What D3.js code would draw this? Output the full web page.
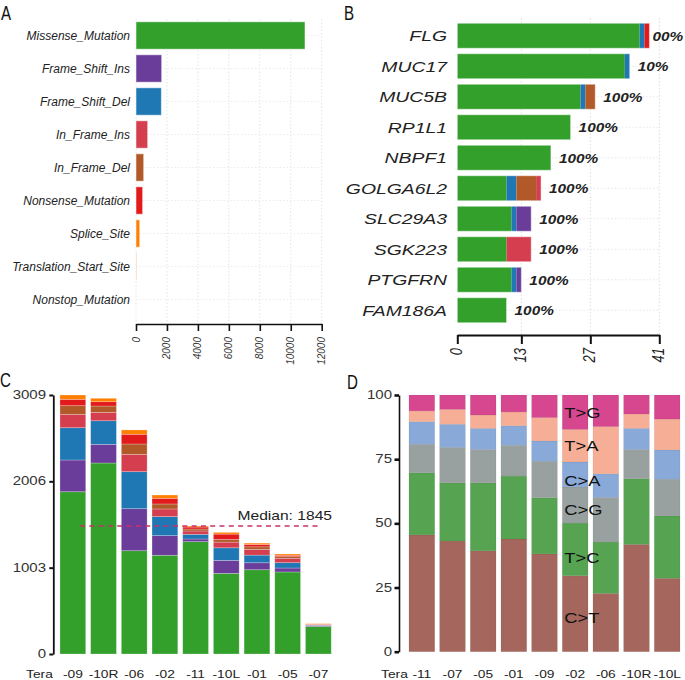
<!DOCTYPE html>
<html><head><meta charset="utf-8">
<script src="https://cdn.jsdelivr.net/npm/d3@7"></script>
<style>
html,body{margin:0;padding:0;background:#fff;}
svg{display:block;font-family:"Liberation Sans",Arial,Helvetica,sans-serif;}
</style></head>
<body>
<svg id="chart" width="685" height="680"></svg>
<script>
// ---------- DATA ----------
// Panel A: variant classification
const variantClasses = ["Missense_Mutation","Frame_Shift_Ins","Frame_Shift_Del","In_Frame_Ins","In_Frame_Del","Nonsense_Mutation","Splice_Site","Translation_Start_Site","Nonstop_Mutation"];
const variantCounts  = [10920, 1660, 1640, 755, 497, 430, 240, 40, 0];
const variantColors  = ["#33A02C","#6A3D9A","#1F78B4","#D53E4F","#B15928","#E31A1C","#FF7F00","#F4A582","#A6CEE3"];
const aTicks = [0,2000,4000,6000,8000,10000,12000];

// Panel B: top 10 genes (stack order)
const genes = ["FLG","MUC17","MUC5B","RP1L1","NBPF1","GOLGA6L2","SLC29A3","SGK223","PTGFRN","FAM186A"];
const geneStackKeys = ["Missense_Mutation","Frame_Shift_Del","Frame_Shift_Ins","In_Frame_Del","In_Frame_Ins","Nonsense_Mutation"];
const geneMissense = [37,34,25,23,19,10,11,10,11,10];
const geneFSD      = [1,1,1,0,0,2,1,0,1,0];
const geneFSI      = [0,0,0,0,0,0,3,0,1,0];
const geneIFD      = [0,0,2,0,0,4,0,0,0,0];
const geneIFI      = [0,0,0,0,0,1,0,5,0,0];
const geneNonsense = [1,0,0,0,0,0,0,0,0,0];
const geneLabels   = ["00%","10%","100%","100%","100%","100%","100%","100%","100%","100%"];
const bTicks = [0,13,27,41];

// Panel C: variants per sample
const samplesC = ["-09","-10R","-06","-02","-11","-10L","-01","-05","-07"];
const cStackKeys = ["Missense_Mutation","Frame_Shift_Ins","Frame_Shift_Del","In_Frame_Ins","In_Frame_Del","Nonsense_Mutation","Splice_Site"];
const cMissense = [1885,2219,1200,1147,1305,937,979,953,320];
const cFSI      = [369,217,488,228,31,151,81,46,10];
const cFSD      = [375,274,430,221,55,146,89,62,4];
const cIFI      = [156,98,202,89,38,66,66,51,6];
const cIFD      = [100,73,120,58,23,31,30,19,4];
const cNonsense = [74,50,113,66,23,62,28,16,3];
const cSplice   = [50,40,50,38,12,20,15,15,5];
const cTicks = [0,1003,2006,3009];
const medianLabel = 1845;

// Panel D: transitions / transversions (%)
const samplesD = ["-11","-07","-05","-01","-09","-02","-06","-10R","-10L"];
const subs = ["C>T","T>C","C>G","C>A","T>A","T>G"];
const subColors = ["#a4665d","#56a352","#98a19f","#89a9d9","#f6af96","#d6478f"];
const dCT = [45.5,43.1,39.3,43.9,38.1,29.6,22.7,41.8,28.6];
const dTC = [24.2,22.7,26.5,24.5,21.9,20.5,20.0,25.6,24.3];
const dCG = [11.1,13.8,13.0,12.0,14.2,14.1,17.4,11.4,14.3];
const dCA = [8.8,9.0,8.2,7.6,7.9,9.7,9.2,8.2,11.4];
const dTA = [4.2,5.8,5.2,5.4,9.1,12.7,18.4,5.6,12.0];
const dTG = [6.2,5.6,7.8,6.6,8.8,13.4,12.3,7.4,9.4];
const subLabelPos = [13,36.6,55.2,66.5,80.1,93.1];
const subLabelSample = "-02";
const dTicks = [0,25,50,75,100];

// ---------- HELPERS ----------
const svg = d3.select("#chart");
const colorOf = d3.scaleOrdinal().domain(variantClasses).range(variantColors);

function label(g, x, y, s, o = {}) {
  const t = g.append("text")
    .attr("transform", `translate(${x},${y}) scale(${o.sx || 1},1)` + (o.rot ? ` rotate(${o.rot})` : ""))
    .attr("text-anchor", o.anchor || "start")
    .attr("dominant-baseline", o.baseline || "auto")
    .attr("font-size", o.size || 12)
    .attr("fill", o.fill || "#222")
    .text(s);
  if (o.italic) t.attr("font-style", "italic");
  if (o.bold) t.attr("font-weight", "bold");
  return t;
}
function panelLetter(x, y, s) {
  label(svg, x, y, s, {size: 21, sx: 0.72, fill: "#111"});
}

// ---------- PANEL A ----------
(function(){
  const g = svg.append("g");
  const x = d3.scaleLinear().domain([0,12000]).range([136,321.7]);
  const y = d3.scaleBand().domain(variantClasses).range([19,316]).paddingInner(0.17).paddingOuter(0.085);
  const axisY = 324;
  g.selectAll(".vg").data(aTicks).join("line")
    .attr("x1", d=>x(d)).attr("x2", d=>x(d)).attr("y1", 19).attr("y2", axisY)
    .attr("stroke", "#e3e3e3").attr("stroke-dasharray", "1.5,2");
  g.selectAll(".hg").data(variantClasses).join("line")
    .attr("x1", x(0)).attr("x2", x(12000)).attr("y1", d=>y(d)+y.bandwidth()/2).attr("y2", d=>y(d)+y.bandwidth()/2)
    .attr("stroke", "#ececec").attr("stroke-dasharray", "1.5,2");
  g.selectAll("rect").data(variantClasses).join("rect")
    .attr("x", x(0)).attr("y", d=>y(d))
    .attr("width", (d,i)=>x(variantCounts[i])-x(0)).attr("height", y.bandwidth())
    .attr("fill", d=>colorOf(d)).attr("stroke", "rgba(255,255,255,0.5)").attr("stroke-width", 1);
  variantClasses.forEach(d => label(g, 130, y(d)+y.bandwidth()/2, d, {anchor:"end", baseline:"central", italic:true, size:12, fill:"#222"}));
  const ax = g.append("g").attr("transform", `translate(0,${axisY})`)
    .call(d3.axisBottom(x).tickValues(aTicks).tickSize(7).tickSizeOuter(0).tickFormat(""));
  ax.select(".domain").attr("stroke", "#111").attr("stroke-width", 1.6);
  ax.selectAll(".tick line").attr("stroke", "#111").attr("stroke-width", 1.6);
  aTicks.forEach(t => label(g, x(t)+3.5, axisY+13, d3.format("d")(t), {anchor:"end", rot:-90, italic:true, size:10, fill:"#333"}));
  panelLetter(1, 20, "A");
})();

// ---------- PANEL B ----------
(function(){
  const g = svg.append("g");
  const x = d3.scaleLinear().domain([0,41]).range([457.3,659.3]);
  const y = d3.scaleBand().domain(genes).range([20.5,325.5]).paddingInner(0.18).paddingOuter(0.09);
  const axisY = 335;
  const series = {Missense_Mutation: geneMissense, Frame_Shift_Del: geneFSD, Frame_Shift_Ins: geneFSI,
                  In_Frame_Del: geneIFD, In_Frame_Ins: geneIFI, Nonsense_Mutation: geneNonsense};
  const rows = genes.map((gn,i)=>{ const r={gene:gn}; geneStackKeys.forEach(k=>r[k]=series[k][i]); return r; });
  const stacked = d3.stack().keys(geneStackKeys)(rows);
  g.selectAll(".vg").data(bTicks.slice(1)).join("line")
    .attr("x1", d=>x(d)).attr("x2", d=>x(d)).attr("y1", 18).attr("y2", axisY)
    .attr("stroke", "#dedede").attr("stroke-dasharray", "1.5,2");
  g.selectAll(".hg").data(genes).join("line")
    .attr("x1", x(0)).attr("x2", x(41)).attr("y1", d=>y(d)+y.bandwidth()/2).attr("y2", d=>y(d)+y.bandwidth()/2)
    .attr("stroke", "#e6e6e6").attr("stroke-dasharray", "1.5,2");
  stacked.forEach(s => {
    g.append("g").selectAll("rect").data(s).join("rect")
      .attr("x", d=>x(d[0])).attr("y", d=>y(d.data.gene))
      .attr("width", d=>Math.max(0, x(d[1])-x(d[0]))).attr("height", y.bandwidth())
      .attr("fill", colorOf(s.key));
  });
  g.selectAll(".ol").data(rows).join("rect")
    .attr("x", x(0)).attr("y", d=>y(d.gene))
    .attr("width", d=>x(d3.sum(geneStackKeys, k=>d[k]))-x(0)).attr("height", y.bandwidth())
    .attr("fill", "none").attr("stroke", "rgba(255,255,255,0.45)").attr("stroke-width", 1);
  genes.forEach((gn,i) => {
    label(g, 447, y(gn)+y.bandwidth()/2, gn, {anchor:"end", baseline:"central", italic:true, size:15.5, sx:1.25, fill:"#222"});
    const tot = d3.sum(geneStackKeys, k=>rows[i][k]);
    label(g, x(tot)+ (geneLabels[i]==="00%" ? 3 : 8), y(gn)+y.bandwidth()/2+1, geneLabels[i], {baseline:"central", italic:true, bold:true, size:12, sx:1.28, fill:"#222"});
  });
  const ax = g.append("g").attr("transform", `translate(0,${axisY})`)
    .call(d3.axisBottom(x).tickValues(bTicks).tickSize(9).tickSizeOuter(0).tickFormat(""));
  ax.select(".domain").attr("stroke", "#111").attr("stroke-width", 2);
  ax.selectAll(".tick line").attr("stroke", "#111").attr("stroke-width", 2);
  bTicks.forEach(t => label(g, x(t)+4.5, axisY+13, String(t), {anchor:"end", rot:-90, italic:true, size:13, sx:1.2, fill:"#222"}));
  panelLetter(344, 20, "B");
})();

// ---------- PANEL C ----------
(function(){
  const g = svg.append("g");
  const x = d3.scaleBand().domain(samplesC).range([57.5,333.7]).paddingInner(0.16).paddingOuter(0.08);
  const y = d3.scaleLinear().domain([0,3009]).range([654,395]);
  const series = {Missense_Mutation:cMissense, Frame_Shift_Ins:cFSI, Frame_Shift_Del:cFSD, In_Frame_Ins:cIFI,
                  In_Frame_Del:cIFD, Nonsense_Mutation:cNonsense, Splice_Site:cSplice};
  const rows = samplesC.map((s,i)=>{ const r={sample:s}; cStackKeys.forEach(k=>r[k]=series[k][i]); return r; });
  const stacked = d3.stack().keys(cStackKeys)(rows);
  stacked.forEach(s => {
    g.append("g").selectAll("rect").data(s).join("rect")
      .attr("x", d=>x(d.data.sample)).attr("y", d=>y(d[1]))
      .attr("width", x.bandwidth()).attr("height", d=>Math.max(0, y(d[0])-y(d[1])))
      .attr("fill", colorOf(s.key)).attr("stroke", "rgba(255,255,255,0.35)").attr("stroke-width", 0.7);
  });
  const totals = rows.map(r=>d3.sum(cStackKeys, k=>r[k]));
  const med = d3.median(totals);
  g.append("line").attr("x1", 80).attr("x2", 318).attr("y1", y(med)).attr("y2", y(med))
    .attr("stroke", "#c8306a").attr("stroke-width", 1.3).attr("stroke-dasharray", "5,4.3");
  label(g, 332, y(med)-6, "Median: " + medianLabel, {anchor:"end", size:12.5, sx:1.25, fill:"#222"});
  const ax = g.append("g").attr("transform", "translate(53.3,0)")
    .call(d3.axisLeft(y).tickValues(cTicks).tickSize(4).tickSizeOuter(0).tickFormat(""));
  ax.select(".domain").attr("stroke", "#111").attr("stroke-width", 1.8);
  ax.selectAll(".tick line").attr("stroke", "#111").attr("stroke-width", 2);
  cTicks.forEach(t => label(g, 46, y(t), String(t), {anchor:"end", baseline:"central", size:12, sx:1.25, fill:"#333"}));
  samplesC.forEach(s => label(g, x(s)+x.bandwidth()/2, 678, s, {anchor:"middle", size:11, sx:1.25, fill:"#222"}));
  label(g, x(samplesC[0])+x.bandwidth()/2-20, 678, "Tera", {anchor:"end", size:11, sx:1.25, fill:"#222"});
  panelLetter(0, 387, "C");
})();

// ---------- PANEL D ----------
(function(){
  const g = svg.append("g");
  const x = d3.scaleBand().domain(samplesD).range([406.5,682.5]).paddingInner(0.16).paddingOuter(0.08);
  const y = d3.scaleLinear().domain([0,100]).range([651.7,395]);
  const colorSub = d3.scaleOrdinal().domain(subs).range(subColors);
  const series = {"C>T":dCT,"T>C":dTC,"C>G":dCG,"C>A":dCA,"T>A":dTA,"T>G":dTG};
  const rows = samplesD.map((s,i)=>{ const r={sample:s}; subs.forEach(k=>r[k]=series[k][i]); return r; });
  const stacked = d3.stack().keys(subs)(rows);
  stacked.forEach(s => {
    g.append("g").selectAll("rect").data(s).join("rect")
      .attr("x", d=>x(d.data.sample)).attr("y", d=>y(d[1]))
      .attr("width", x.bandwidth()).attr("height", d=>Math.max(0, y(d[0])-y(d[1])))
      .attr("fill", colorSub(s.key)).attr("stroke", "rgba(0,0,0,0.06)").attr("stroke-width", 0.8);
  });
  subs.forEach((s,i) => label(g, x(subLabelSample)+2, y(subLabelPos[i]), s, {baseline:"central", size:15, sx:1.22, fill:"#111"}));
  const ax = g.append("g").attr("transform", "translate(399,0)")
    .call(d3.axisLeft(y).tickValues(dTicks).tickSize(4.5).tickSizeOuter(0).tickFormat(""));
  ax.select(".domain").attr("stroke", "#111").attr("stroke-width", 1.6);
  ax.selectAll(".tick line").attr("stroke", "#111").attr("stroke-width", 2.6);
  dTicks.forEach(t => label(g, 392, y(t), String(t), {anchor:"end", baseline:"central", size:12, sx:1.25, fill:"#333"}));
  samplesD.forEach(s => label(g, x(s)+x.bandwidth()/2, 678, s, {anchor:"middle", size:11, sx:1.25, fill:"#222"}));
  label(g, x(samplesD[0])+x.bandwidth()/2-14, 678, "Tera", {anchor:"end", size:11, sx:1.25, fill:"#222"});
  panelLetter(347, 389, "D");
})();
</script>
</body></html>
